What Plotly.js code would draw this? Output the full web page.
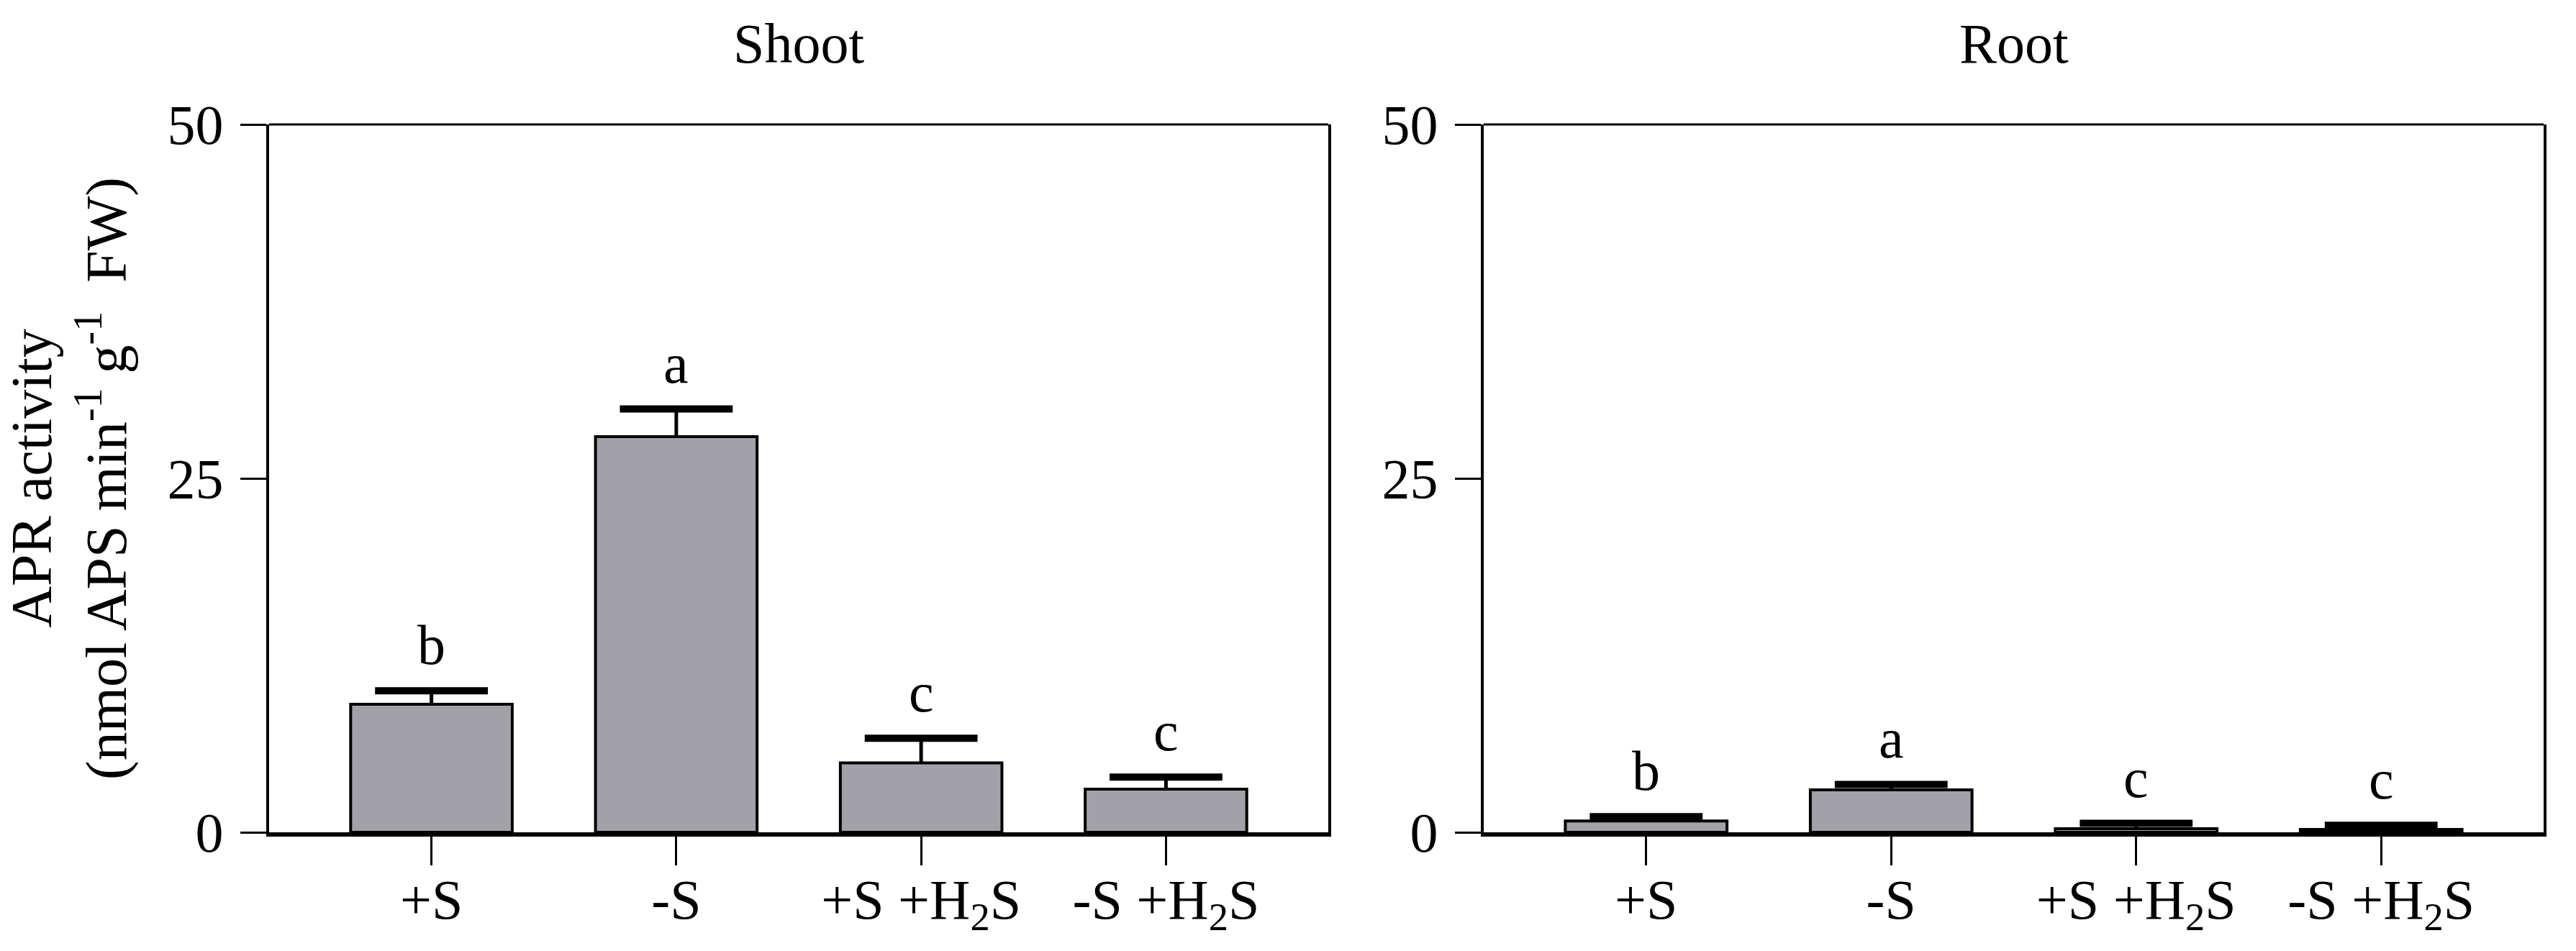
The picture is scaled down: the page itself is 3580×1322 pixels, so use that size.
<!DOCTYPE html>
<html>
<head>
<meta charset="utf-8">
<script src="https://cdn.plot.ly/plotly-3.0.1.min.js"></script>
<style>html,body{margin:0;padding:0;background:#fff;}#chart{width:3580px;height:1322px;}</style>
</head>
<body>
<div id="chart"></div>
<script>
// ---- data ----
const categories = ['+S', '-S', '+S +H2S', '-S +H2S'];
const tickLabels = ['+S', '-S', '+S +H<sub>2</sub>S', '-S +H<sub>2</sub>S'];
const panelTitles = ['Shoot', 'Root'];
const shootMean = [9.05, 27.95, 4.9, 3.05];
const shootErr = [0.95, 1.95, 1.75, 0.85];
const shootLetters = ['b', 'a', 'c', 'c'];
const rootMean = [0.8, 3.0, 0.25, 0.2];
const rootErr = [0.3, 0.38, 0.38, 0.3];
const rootLetters = ['b', 'a', 'c', 'c'];
const yTickVals = [0, 25, 50];

// ---- style ----
const FONT = 'Liberation Serif';
const BAR_FILL = '#a3a1a8';
const FS = 78;

function barTrace(mean, err, xa, ya) {
  return {
    type: 'bar', x: categories, y: mean, xaxis: xa, yaxis: ya,
    width: 0.66,
    marker: {color: BAR_FILL, line: {color: '#000', width: 4}},
    error_y: {type: 'data', symmetric: false, array: err, arrayminus: err.map(() => 0),
              visible: true, color: '#000', thickness: 5, width: 0},
    hoverinfo: 'skip', showlegend: false
  };
}
function capTrace(mean, err, xa, ya) {
  return {
    type: 'scatter', mode: 'markers', x: categories,
    y: mean.map((m, i) => m + err[i]), xaxis: xa, yaxis: ya,
    marker: {symbol: 'line-ew', size: 112, color: '#000', line: {color: '#000', width: 10}},
    hoverinfo: 'skip', showlegend: false, cliponaxis: false
  };
}

const data = [
  barTrace(shootMean, shootErr, 'x', 'y'),
  capTrace(shootMean, shootErr, 'x', 'y'),
  barTrace(rootMean, rootErr, 'x2', 'y2'),
  capTrace(rootMean, rootErr, 'x2', 'y2')
];

const annotations = [];
function addLetters(mean, err, letters, xr, yr) {
  letters.forEach((t, i) => {
    annotations.push({
      x: categories[i], y: mean[i] + err[i], xref: xr, yref: yr,
      text: t, showarrow: false, yanchor: 'bottom', yshift: 18,
      font: {family: FONT, size: FS, color: '#000'}
    });
  });
}
addLetters(shootMean, shootErr, shootLetters, 'x', 'y');
addLetters(rootMean, rootErr, rootLetters, 'x2', 'y2');

const dom1 = [374 / 3580, 1846 / 3580];
const dom2 = [2062 / 3580, 3535 / 3580];
const ydom = [1 - 1157 / 1322, 1 - 173 / 1322];

[dom1, dom2].forEach((d, i) => {
  annotations.push({
    x: (d[0] + d[1]) / 2, y: 1 - 60 / 1322, xref: 'paper', yref: 'paper',
    text: panelTitles[i], showarrow: false, xanchor: 'center', yanchor: 'middle',
    font: {family: FONT, size: FS, color: '#000'}
  });
});

function xAxis(dom, anchor) {
  return {
    domain: dom, anchor: anchor, type: 'category',
    range: [-0.663, 3.663], tickvals: categories, ticktext: tickLabels,
    showline: true, linecolor: '#000', linewidth: 6,
    ticks: 'outside', ticklen: 40, tickwidth: 3, tickcolor: '#000',
    ticklabelstandoff: -20,
    showgrid: false, zeroline: false, automargin: false,
    tickfont: {family: FONT, size: FS, color: '#000'}, fixedrange: true
  };
}
function yAxis(anchor, title) {
  const ax = {
    domain: ydom, anchor: anchor, range: [0, 50],
    tickvals: yTickVals, ticktext: yTickVals.map(String),
    showline: true, mirror: true, linecolor: '#000', linewidth: 4,
    ticks: 'outside', ticklen: 36, tickwidth: 3, tickcolor: '#000',
    ticklabelstandoff: 8,
    showgrid: false, zeroline: false, automargin: false,
    tickfont: {family: FONT, size: FS, color: '#000'}, fixedrange: true
  };
  if (title) ax.title = {text: title, standoff: 37, font: {family: FONT, size: 80, color: '#000'}};
  return ax;
}

const shapes = [dom1, dom2].map((d, i) => ({
  type: 'line', xref: i === 0 ? 'x domain' : 'x2 domain', yref: i === 0 ? 'y domain' : 'y2 domain',
  x0: 0, x1: 1, y0: 1, y1: 1, line: {color: '#000', width: 3}
}));

const layout = {
  width: 3580, height: 1322,
  margin: {l: 0, r: 0, t: 0, b: 0},
  paper_bgcolor: '#fff', plot_bgcolor: '#fff',
  font: {family: FONT, color: '#000'},
  xaxis: xAxis(dom1, 'y'),
  yaxis: yAxis('x', 'APR activity<br>(nmol APS min<sup>-1</sup> g<sup>-1</sup>&nbsp; FW)'),
  xaxis2: xAxis(dom2, 'y2'),
  yaxis2: yAxis('x2', null),
  annotations: annotations,
  shapes: shapes,
  bargap: 0.3
};

Plotly.newPlot('chart', data, layout, {staticPlot: true, displayModeBar: false});
</script>
</body>
</html>
